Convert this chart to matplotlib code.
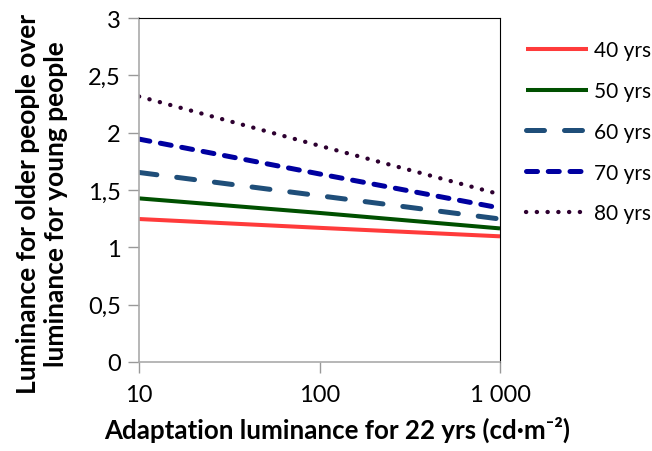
import matplotlib.pyplot as plt
from matplotlib.ticker import FixedLocator, NullLocator

x_lum = [10, 100, 1000]
y_40 = [1.247, 1.170, 1.096]
y_50 = [1.427, 1.300, 1.165]
y_60 = [1.653, 1.450, 1.247]
y_70 = [1.944, 1.640, 1.343]
y_80 = [2.316, 1.886, 1.462]
labels = ['40 yrs', '50 yrs', '60 yrs', '70 yrs', '80 yrs']
x_ticks = [10, 100, 1000]
x_tick_labels = ['10', '100', '1 000']
y_ticks = [0, 0.5, 1, 1.5, 2, 2.5, 3]
y_tick_labels = ['0', '0,5', '1', '1,5', '2', '2,5', '3']

plt.rcParams['font.family'] = ['Lato', 'DejaVu Sans']

fig = plt.figure(figsize=(6.52, 4.52), dpi=100)
ax = fig.add_axes([139 / 652, 1 - 363 / 452, 361 / 652, 344 / 452])

ax.plot(x_lum, y_40, color='#ff3b3b', lw=2.9, solid_capstyle='butt')
ax.plot(x_lum, y_50, color='#005000', lw=2.9, solid_capstyle='butt')
ax.plot(x_lum, y_60, color='#1f4e79', lw=3.6, dashes=(3.6, 4), dash_capstyle='round')
ax.plot(x_lum, y_70, color='#0000a0', lw=3.6, dashes=(2.2, 2.15), dash_capstyle='round')
ax.plot(x_lum, y_80, color='#2d0030', lw=3.1, dashes=(0.05, 2.45), dash_capstyle='round')

ax.set_xscale('log')
ax.set_xlim(10, 1000)
ax.set_ylim(0, 3)
ax.xaxis.set_major_locator(FixedLocator(x_ticks))
ax.xaxis.set_minor_locator(NullLocator())
ax.set_xticklabels(x_tick_labels)
ax.set_yticks(y_ticks)
ax.set_yticklabels(y_tick_labels)
ax.tick_params(axis='both', colors='#999999', labelcolor='black', labelsize=17,
               length=8, width=1)
ax.tick_params(axis='x', pad=8)
ax.tick_params(axis='y', pad=5)

for side in ['left', 'bottom']:
    ax.spines[side].set_color('#aaaaaa')
    ax.spines[side].set_linewidth(1.2)
for side in ['top', 'right']:
    ax.spines[side].set_color('black')
    ax.spines[side].set_linewidth(0.8)

ax.set_xlabel('Adaptation luminance for 22 yrs (cd·m⁻²)', fontsize=18.6,
              fontweight='bold')
ax.xaxis.set_label_coords(0.55, -0.155)
ax.set_ylabel('Luminance for older people over\nluminance for young people',
              fontsize=19, fontweight='bold', linespacing=1.2)
ax.yaxis.set_label_coords(-0.197, 0.462)

ax.legend(labels, loc='upper left', bbox_to_anchor=(1.072, 0.936), frameon=False,
          fontsize=15, handlelength=3.0, labelspacing=1.0, handletextpad=0.25,
          borderaxespad=0, borderpad=0)

fig.savefig('out.png', dpi=100)
